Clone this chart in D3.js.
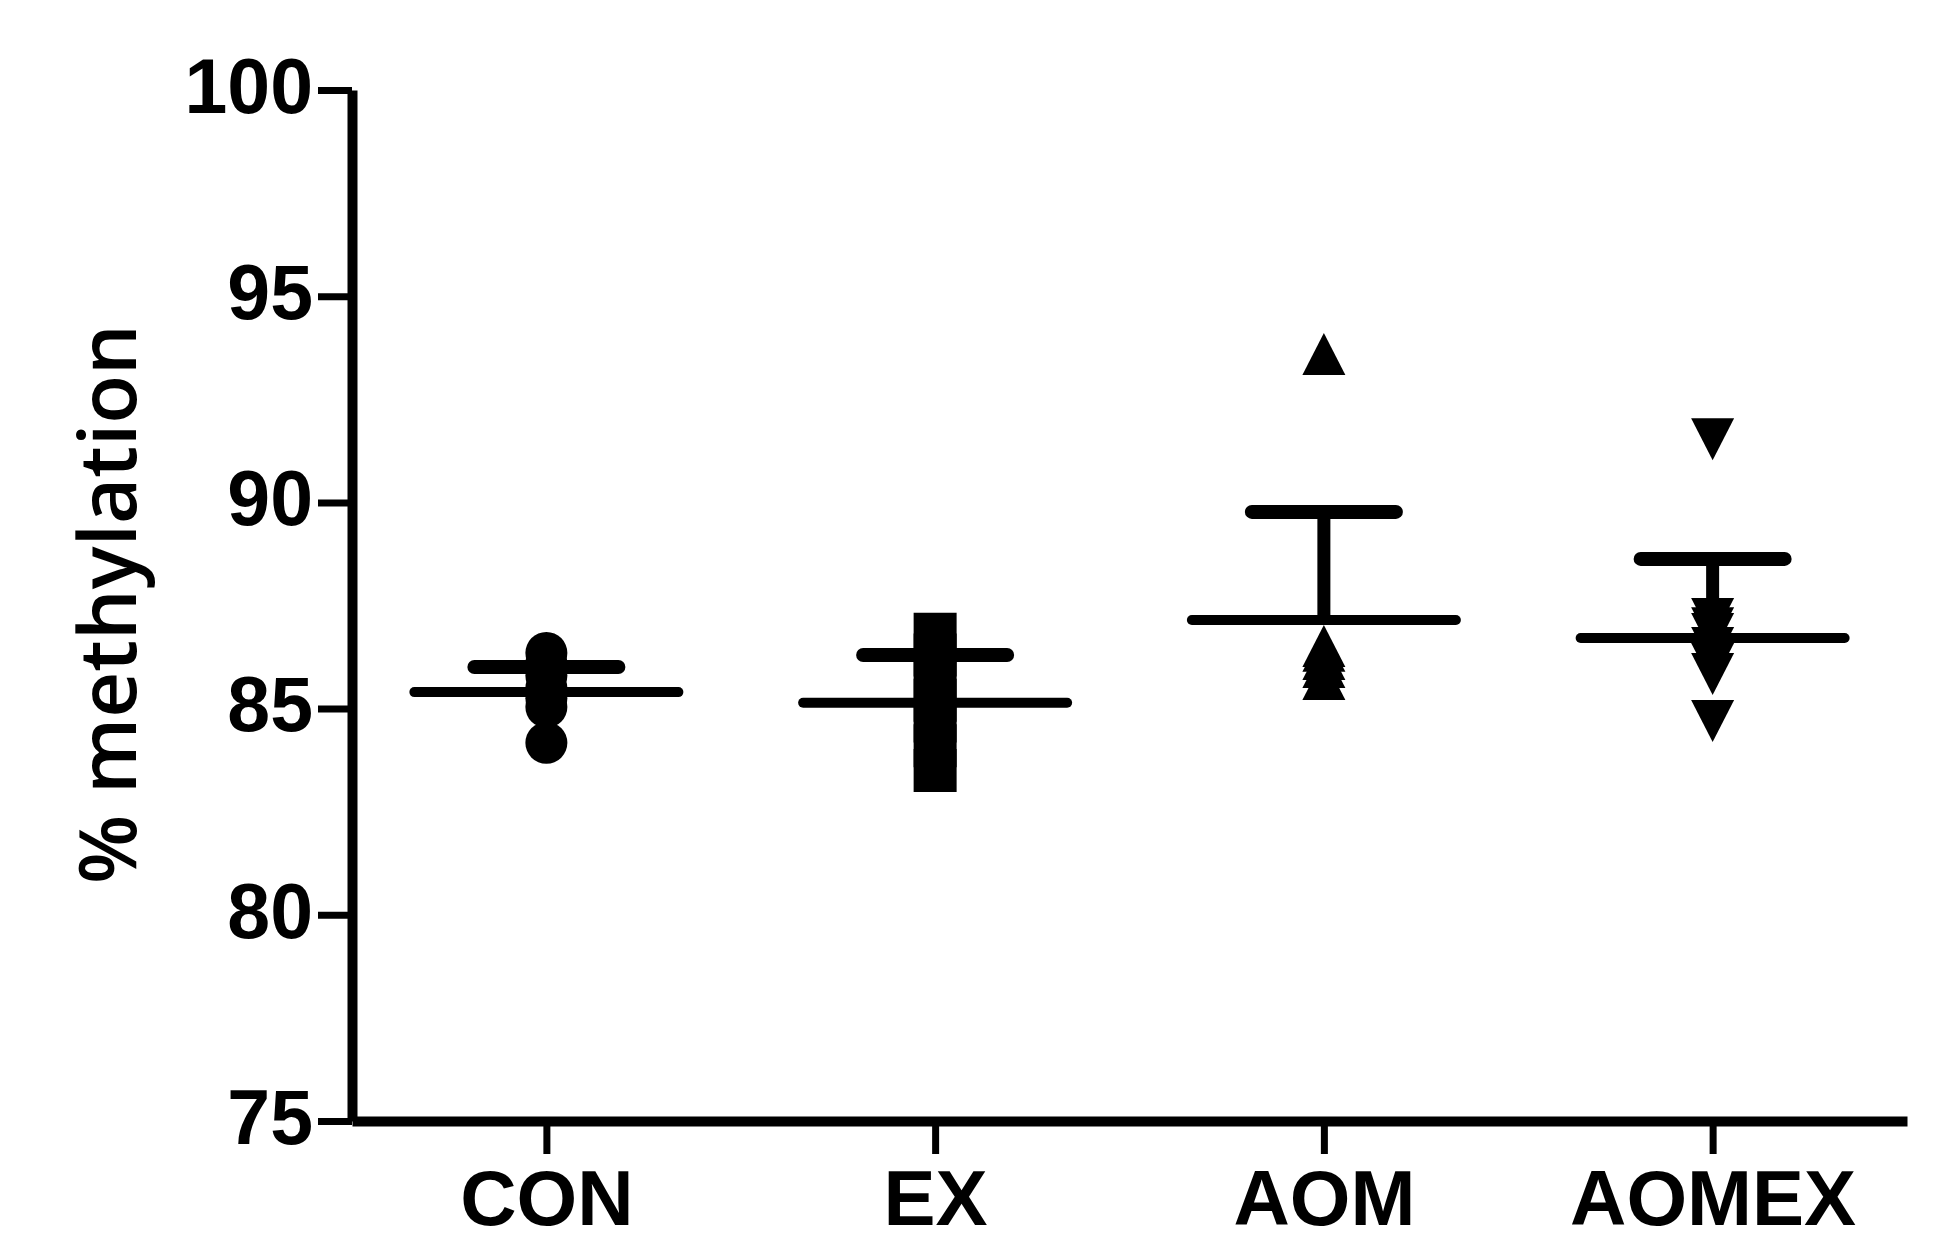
<!DOCTYPE html>
<html>
<head>
<meta charset="utf-8">
<script src="https://cdn.jsdelivr.net/npm/d3@7"></script>
<style>
  body { margin: 0; background: #fff; }
  .axis path, .axis line { stroke: #000; }
  .axis text { font-family: "Liberation Sans", Arial, sans-serif; font-weight: bold; fill: #000; }
  .ytitle { font-family: "Open Sans", sans-serif; font-weight: 600; }
</style>
</head>
<body>
<svg width="1954" height="1243"></svg>
<script>
(function (d3) {
  'use strict';

  // data
  const groups = ['CON', 'EX', 'AOM', 'AOMEX'];
  const conValues = [86.35, 86.1, 85.8, 85.5, 85.25, 85.04, 84.17];
  const exValues = [86.8, 86.3, 85.7, 85.2, 84.7, 84.1, 83.5];
  const aomValues = [93.6, 86.52, 86.4, 86.2, 86.01, 85.72];
  const aomexValues = [91.53, 87.17, 86.95, 86.81, 86.47, 86.08, 85.84, 84.7];
  const means = [85.4, 85.14, 87.15, 86.71];
  const upperBars = [86.01, 86.3, 89.77, 88.63];
  const yTicks = [75, 80, 85, 90, 95, 100];

  const values = [conValues, exValues, aomValues, aomexValues];

  const svg = d3.select('svg');

  const y = d3.scaleLinear().domain([75, 100]).range([1121, 90]);
  const x = d3.scalePoint().domain(groups).range([352, 1907]).padding(0.5);

  // marker shapes
  const hw = 21.5, hh = 21;
  const markers = {
    CON: d3.symbol().type(d3.symbolCircle).size(Math.PI * 21 * 21)(),
    EX: d3.symbol().type(d3.symbolSquare).size(43 * 43)(),
    AOM: `M0,${-hh}L${hw},${hh}L${-hw},${hh}Z`,
    AOMEX: `M${-hw},${-hh}L${hw},${-hh}L0,${hh}Z`
  };

  // y axis
  const yAxis = svg.append('g')
    .attr('class', 'axis')
    .attr('transform', 'translate(352,0)')
    .call(d3.axisLeft(y).tickValues(yTicks).tickSize(34).tickSizeOuter(0).tickPadding(5));
  yAxis.select('.domain').attr('stroke-width', 10);
  yAxis.selectAll('.tick line').attr('stroke-width', 7);
  yAxis.selectAll('.tick text').attr('font-size', 77).attr('dy', '0.29em');

  // x axis
  const xAxis = svg.append('g')
    .attr('class', 'axis')
    .attr('transform', 'translate(0,1121)')
    .call(d3.axisBottom(x).tickSize(33).tickSizeOuter(0).tickPadding(16));
  xAxis.select('.domain').attr('stroke-width', 10);
  xAxis.selectAll('.tick line').attr('stroke-width', 7);
  xAxis.selectAll('.tick text').attr('font-size', 78);

  // y title
  svg.append('text')
    .attr('class', 'ytitle')
    .attr('transform', 'translate(136,604) rotate(-90)')
    .attr('text-anchor', 'middle')
    .attr('font-size', 80)
    .text('% methylation');

  const g = svg.append('g');

  groups.forEach((grp, i) => {
    const cx = x(grp);

    // mean line
    g.append('line')
      .attr('x1', cx - 132).attr('x2', cx + 132)
      .attr('y1', y(means[i])).attr('y2', y(means[i]))
      .attr('stroke', '#000').attr('stroke-width', 10).attr('stroke-linecap', 'round');

    // error stem + cap
    g.append('line')
      .attr('x1', cx).attr('x2', cx)
      .attr('y1', y(means[i])).attr('y2', y(upperBars[i]))
      .attr('stroke', '#000').attr('stroke-width', 13);
    g.append('line')
      .attr('x1', cx - 72).attr('x2', cx + 72)
      .attr('y1', y(upperBars[i])).attr('y2', y(upperBars[i]))
      .attr('stroke', '#000').attr('stroke-width', 14).attr('stroke-linecap', 'round');

    // points
    g.selectAll(null)
      .data(values[i])
      .enter()
      .append('path')
      .attr('d', markers[grp])
      .attr('transform', d => `translate(${cx},${y(d)})`)
      .attr('fill', '#000');
  });

}(d3));
</script>
</body>
</html>
